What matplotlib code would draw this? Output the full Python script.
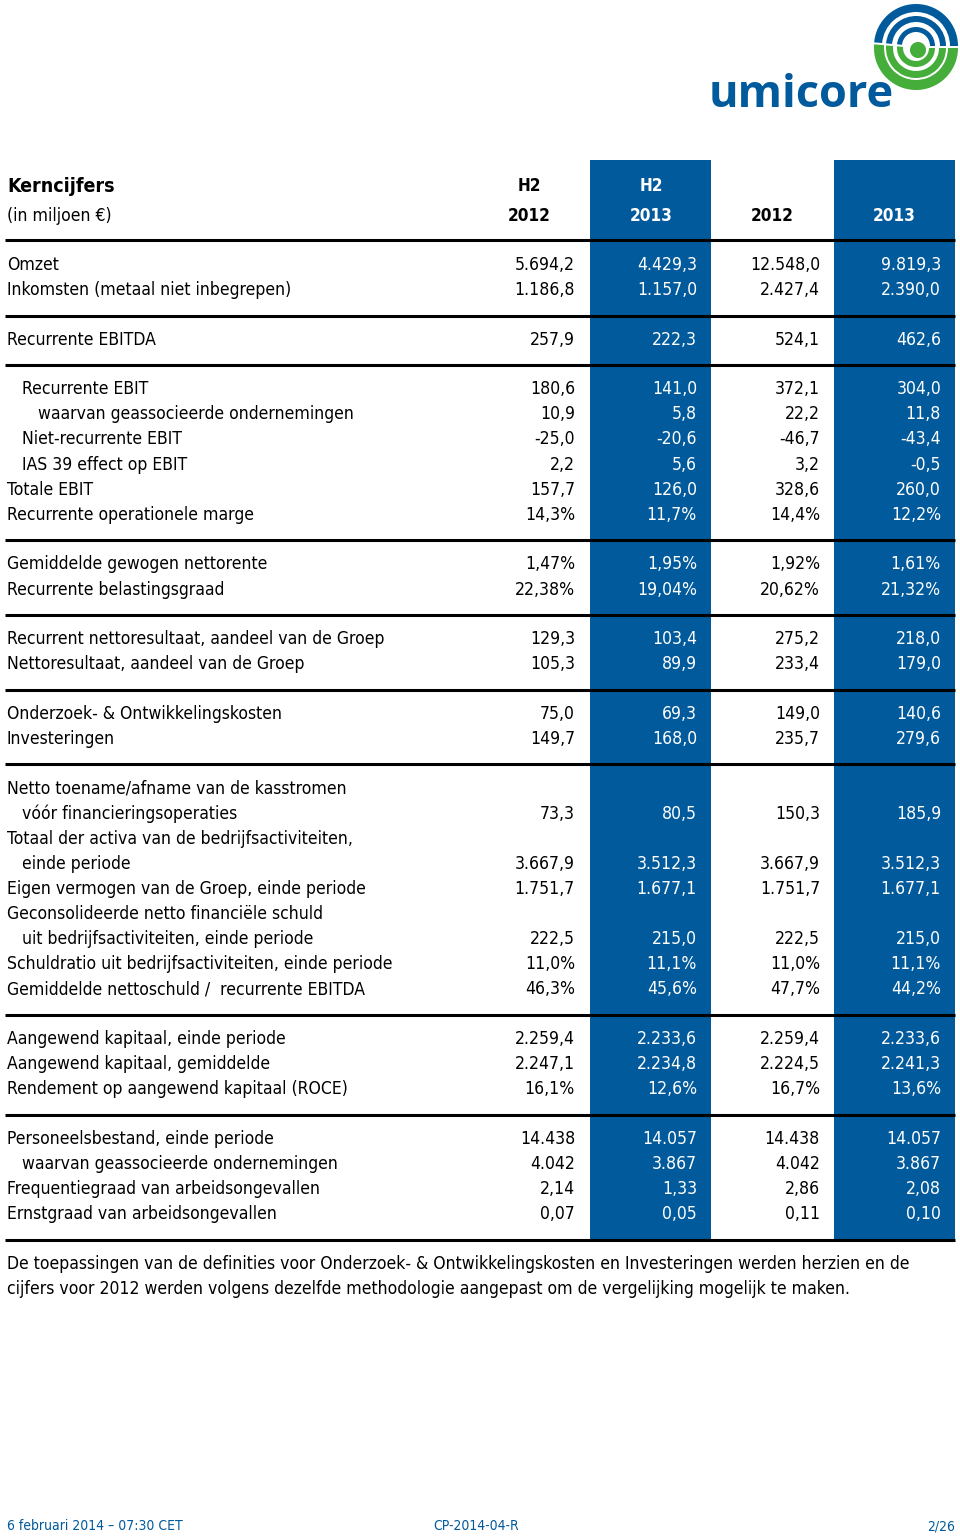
import matplotlib
matplotlib.use("Agg")
import matplotlib.pyplot as plt
from matplotlib.patches import Rectangle, Wedge

# ---------------- data ----------------
title = "Kerncijfers"
subtitle = "(in miljoen €)"
col_top = ["H2", "H2", "", ""]
col_years = ["2012", "2013", "2012", "2013"]

groups = [
    [("Omzet", 0, ["5.694,2", "4.429,3", "12.548,0", "9.819,3"]),
     ("Inkomsten (metaal niet inbegrepen)", 0, ["1.186,8", "1.157,0", "2.427,4", "2.390,0"])],
    [("Recurrente EBITDA", 0, ["257,9", "222,3", "524,1", "462,6"])],
    [("Recurrente EBIT", 1, ["180,6", "141,0", "372,1", "304,0"]),
     ("waarvan geassocieerde ondernemingen", 2, ["10,9", "5,8", "22,2", "11,8"]),
     ("Niet-recurrente EBIT", 1, ["-25,0", "-20,6", "-46,7", "-43,4"]),
     ("IAS 39 effect op EBIT", 1, ["2,2", "5,6", "3,2", "-0,5"]),
     ("Totale EBIT", 0, ["157,7", "126,0", "328,6", "260,0"]),
     ("Recurrente operationele marge", 0, ["14,3%", "11,7%", "14,4%", "12,2%"])],
    [("Gemiddelde gewogen nettorente", 0, ["1,47%", "1,95%", "1,92%", "1,61%"]),
     ("Recurrente belastingsgraad", 0, ["22,38%", "19,04%", "20,62%", "21,32%"])],
    [("Recurrent nettoresultaat, aandeel van de Groep", 0, ["129,3", "103,4", "275,2", "218,0"]),
     ("Nettoresultaat, aandeel van de Groep", 0, ["105,3", "89,9", "233,4", "179,0"])],
    [("Onderzoek- & Ontwikkelingskosten", 0, ["75,0", "69,3", "149,0", "140,6"]),
     ("Investeringen", 0, ["149,7", "168,0", "235,7", "279,6"])],
    [("Netto toename/afname van de kasstromen", 0, None),
     ("vóór financieringsoperaties", 1, ["73,3", "80,5", "150,3", "185,9"]),
     ("Totaal der activa van de bedrijfsactiviteiten,", 0, None),
     ("einde periode", 1, ["3.667,9", "3.512,3", "3.667,9", "3.512,3"]),
     ("Eigen vermogen van de Groep, einde periode", 0, ["1.751,7", "1.677,1", "1.751,7", "1.677,1"]),
     ("Geconsolideerde netto financiële schuld", 0, None),
     ("uit bedrijfsactiviteiten, einde periode", 1, ["222,5", "215,0", "222,5", "215,0"]),
     ("Schuldratio uit bedrijfsactiviteiten, einde periode", 0, ["11,0%", "11,1%", "11,0%", "11,1%"]),
     ("Gemiddelde nettoschuld /  recurrente EBITDA", 0, ["46,3%", "45,6%", "47,7%", "44,2%"])],
    [("Aangewend kapitaal, einde periode", 0, ["2.259,4", "2.233,6", "2.259,4", "2.233,6"]),
     ("Aangewend kapitaal, gemiddelde", 0, ["2.247,1", "2.234,8", "2.224,5", "2.241,3"]),
     ("Rendement op aangewend kapitaal (ROCE)", 0, ["16,1%", "12,6%", "16,7%", "13,6%"])],
    [("Personeelsbestand, einde periode", 0, ["14.438", "14.057", "14.438", "14.057"]),
     ("waarvan geassocieerde ondernemingen", 1, ["4.042", "3.867", "4.042", "3.867"]),
     ("Frequentiegraad van arbeidsongevallen", 0, ["2,14", "1,33", "2,86", "2,08"]),
     ("Ernstgraad van arbeidsongevallen", 0, ["0,07", "0,05", "0,11", "0,10"])],
]

footnote = ["De toepassingen van de definities voor Onderzoek- & Ontwikkelingskosten en Investeringen werden herzien en de",
            "cijfers voor 2012 werden volgens dezelfde methodologie aangepast om de vergelijking mogelijk te maken."]
footer_left = "6 februari 2014 \u2013 07:30 CET"
footer_mid = "CP-2014-04-R"
footer_right = "2/26"
logo_text = "umicore"

# ---------------- style ----------------
BLUE = "#015a9b"
GREEN = "#45ad3a"
FONT = ["DejaVu Sans"]
STRETCH = "condensed"
FS = 12.6

W, H = 960, 1538
fig = plt.figure(figsize=(W / 100, H / 100), dpi=100)
ax = fig.add_axes([0, 0, 1, 1])
ax.set_xlim(0, W)
ax.set_ylim(H, 0)
ax.axis("off")

def txt(x, y, s, size=FS, weight="normal", color="black", ha="left", **kw):
    ax.text(x, y, s, fontsize=size, fontweight=weight, family=FONT, fontstretch=STRETCH,
            color=color, ha=ha, va="center", zorder=3, **kw)

col_right = [575, 697, 820, 941]
col_center = [529, 651, 772, 894]
blue_cols = [(590, 711), (834, 955)]
tbl_top, tbl_bot = 160, 1240
for x0, x1 in blue_cols:
    ax.add_patch(Rectangle((x0, tbl_top), x1 - x0, tbl_bot - tbl_top, color=BLUE, lw=0, zorder=1))

def is_blue(i):
    return i in (1, 3)

txt(7, 186, title, size=14, weight="bold")
txt(7, 216, subtitle)
for i in range(4):
    c = "white" if is_blue(i) else "black"
    if col_top[i]:
        txt(col_center[i], 186, col_top[i], size=12.3, weight="bold", color=c, ha="center")
    txt(col_center[i], 216, col_years[i], size=12.3, weight="bold", color=c, ha="center")

def hline(y):
    ax.plot([5, 955], [y, y], color="black", lw=2.2, zorder=2, solid_capstyle="butt")

hline(240)

indent_px = [7, 22, 38]
y = 265
step, gap = 25.1, 24.5
for gi, grp in enumerate(groups):
    for label, ind, vals in grp:
        txt(indent_px[ind], y, label)
        if vals is not None:
            for i, v in enumerate(vals):
                c = "white" if is_blue(i) else "black"
                txt(col_right[i], y, v, color=c, ha="right")
        y += step
    hline(y - step + 25.5)
    y += gap

txt(7, 1264, footnote[0])
txt(7, 1289, footnote[1])

txt(7, 1526, footer_left, size=10, color=BLUE)
txt(433, 1526, footer_mid, size=10, color=BLUE)
txt(955, 1526, footer_right, size=10, color=BLUE, ha="right")

# logo
ax.text(709, 107, logo_text, fontsize=32.5, fontweight="bold", family=["Open Sans", "DejaVu Sans"],
        color=BLUE, va="baseline", ha="left")
cx, cy = 916, 46
for r, w in [(42, 8), (30, 6), (19, 5)]:
    ax.add_patch(Wedge((cx, cy), r, 185, 360, width=w, color=BLUE, lw=0))
for r, w in [(42, 10), (30, 7), (19, 6)]:
    ax.add_patch(Wedge((cx, cy + 2), r, 0, 185, width=w, color=GREEN, lw=0))
ax.add_patch(Wedge((cx + 2, cy + 4), 8, 0, 360, color=GREEN, lw=0))

fig.savefig("out.png", dpi=100)
